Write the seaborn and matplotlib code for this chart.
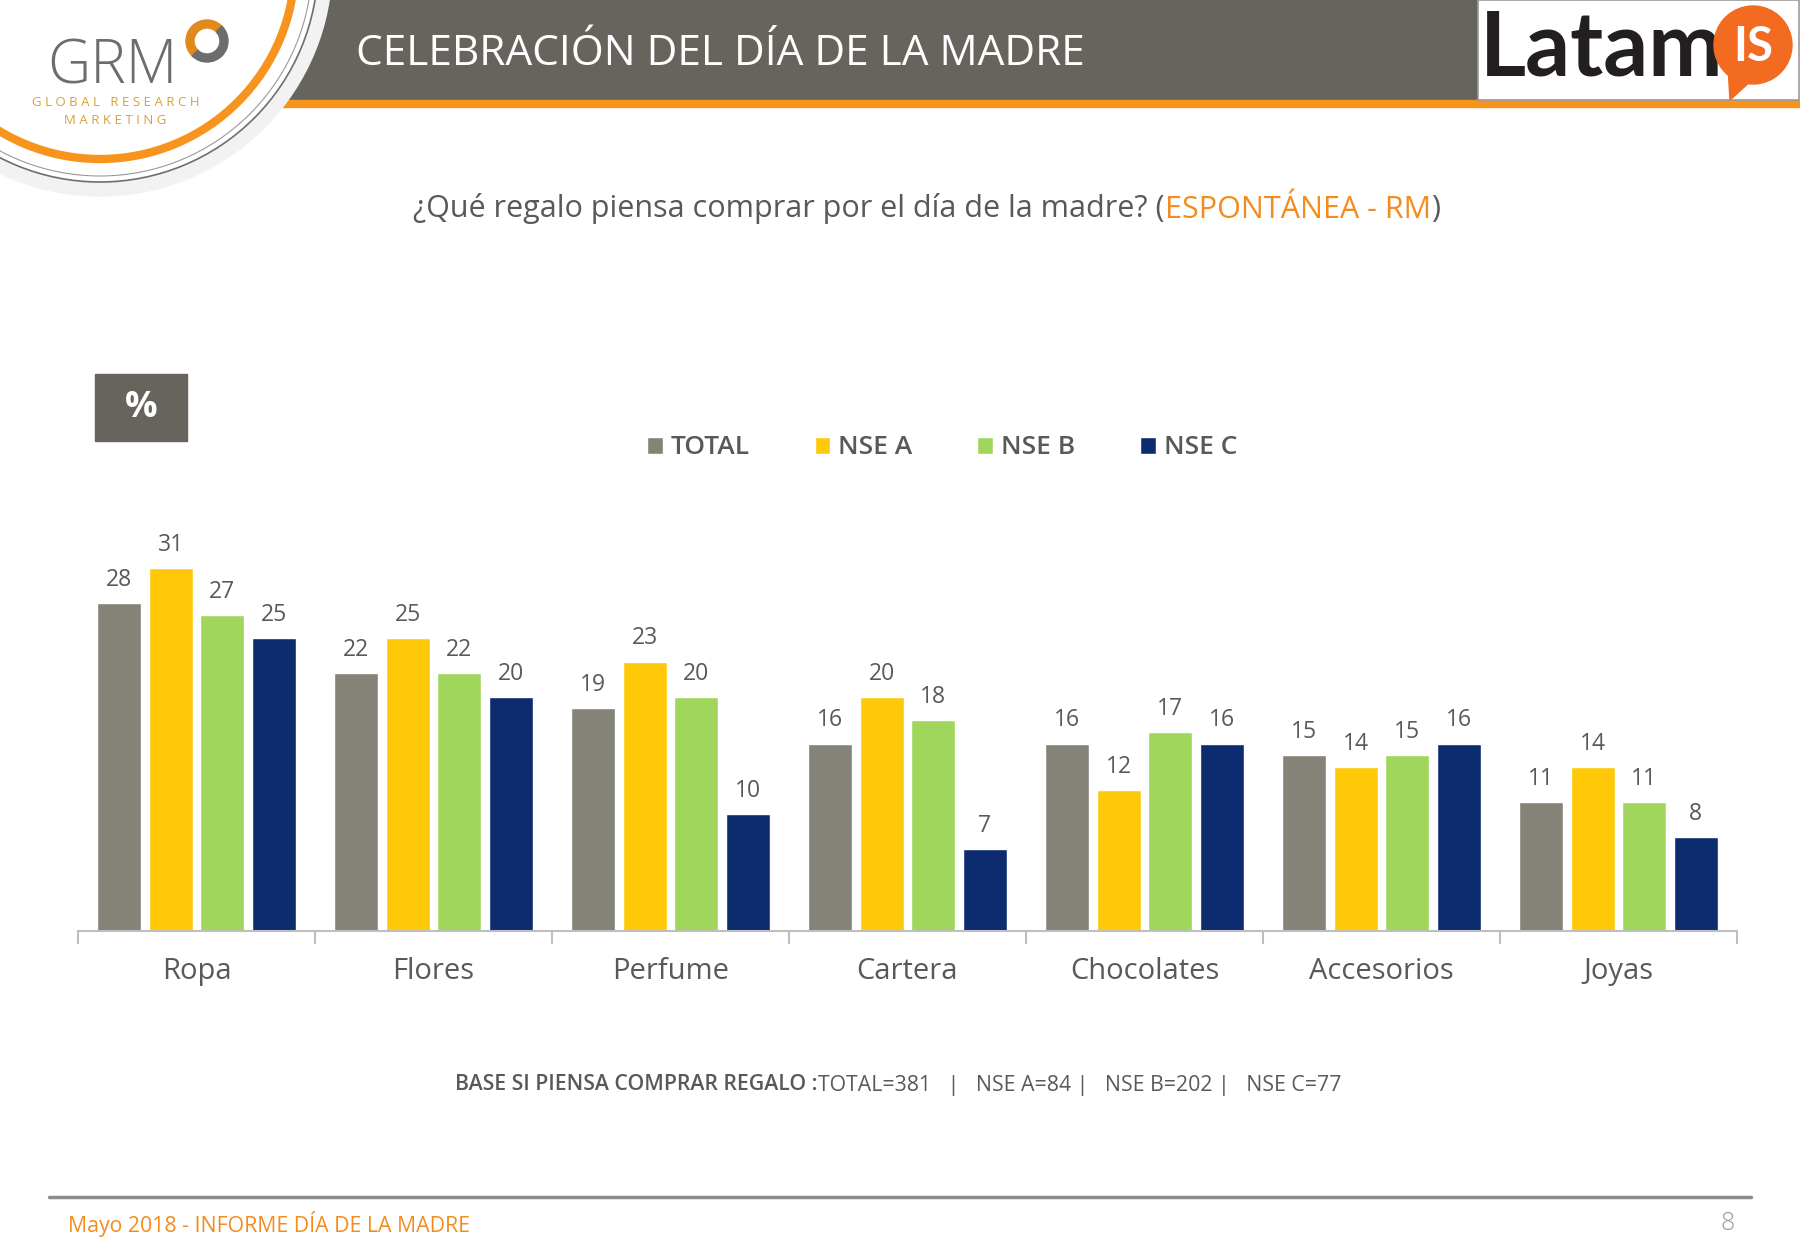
import numpy as np
import pandas as pd
import matplotlib
matplotlib.use("Agg")
import matplotlib.pyplot as plt
from matplotlib.patches import Rectangle, Circle, Wedge, Polygon
import seaborn as sns

# data
categorias = ["Ropa", "Flores", "Perfume", "Cartera", "Chocolates", "Accesorios", "Joyas"]
series = ["TOTAL", "NSE A", "NSE B", "NSE C"]
total = [28, 22, 19, 16, 16, 15, 11]
nse_a = [31, 25, 23, 20, 12, 14, 14]
nse_b = [27, 22, 20, 18, 17, 15, 11]
nse_c = [25, 20, 10, 7, 16, 16, 8]
colores = ["#858378", "#FFC90A", "#A0D65C", "#0C2C6F"]

GRIS_TXT = "#595959"
NARANJA = "#F28C1E"

df = pd.DataFrame({
    "categoria": categorias * 4,
    "serie": np.repeat(series, len(categorias)),
    "valor": total + nse_a + nse_b + nse_c,
})

sns.set_theme(style="white")
plt.rcParams["font.family"] = ["Open Sans", "DejaVu Sans"]

fig = plt.figure(figsize=(18, 12.46), dpi=100)

# background layer in pixel coordinates for the slide decorations
bg = fig.add_axes([0, 0, 1, 1], zorder=0)
bg.set_xlim(0, 1800)
bg.set_ylim(1246, 0)
bg.axis("off")

# header band
bg.add_patch(Rectangle((240, 0), 1240, 100, color="#67645D", zorder=1))
bg.add_patch(Rectangle((240, 100), 1560, 7, color="#F7941D", zorder=1))
bg.add_patch(Rectangle((1478, 0), 321, 100, facecolor="white", edgecolor="#9A9A9A", lw=1.2, zorder=2))
bg.text(356, 54, "CELEBRACIÓN DEL DÍA DE LA MADRE", color="white", fontsize=30.5,
        va="center", ha="left", zorder=3)

# Latamis logo
bg.text(1480, 76, "Latam", color="#231F20", fontsize=64, fontweight="bold",
        family=["Lato", "DejaVu Sans"], va="baseline", ha="left", zorder=3)
bg.add_patch(Polygon([[1728, 66], [1752, 80], [1730, 100]], closed=True, color="#F26B21", zorder=4))
bg.add_patch(Circle((1753, 45), 39, color="#F26B21", zorder=4))
bg.text(1753, 47, "IS", color="white", fontsize=34, fontweight="bold",
        family=["Lato", "DejaVu Sans"], ha="center", va="center", zorder=5)

# GRM logo (circle badge)
bg.add_patch(Circle((100, -36), 232, color="#F2F2F2", zorder=4))
bg.add_patch(Circle((100, -36), 218, facecolor="white", edgecolor="#6E6E6E", lw=1.2, zorder=4))
bg.add_patch(Circle((100, -36), 212, fill=False, edgecolor="#9A9A9A", lw=0.8, zorder=5))
bg.add_patch(Circle((100, -36), 195, fill=False, edgecolor="#F7941D", lw=6, zorder=5))
bg.text(112, 83, "GRM", color="#6D6D6D", fontsize=43, fontweight="light",
        ha="center", va="baseline", zorder=6)
bg.add_patch(Wedge((207, 41), 21, 135, 315, width=8, color="#E08A1E", zorder=6))
bg.add_patch(Wedge((207, 41), 21, 315, 495, width=8, color="#6D6D6D", zorder=6))
bg.text(116, 102, "G L O B A L   R E S E A R C H", color="#D4A23A", fontsize=9.5,
        ha="center", va="center", zorder=6)
bg.text(115, 120, "M A R K E T I N G", color="#D4A23A", fontsize=9.5,
        ha="center", va="center", zorder=6)

# subtitle in two colours
t1 = bg.text(413, 209, "¿Qué regalo piensa comprar por el día de la madre? (", color=GRIS_TXT,
             fontsize=22, ha="left", va="center", zorder=3)
t2 = bg.annotate("ESPONTÁNEA - RM", xy=(1, 0), xycoords=t1, color=NARANJA,
                 fontsize=22, ha="left", va="bottom", zorder=3)
bg.annotate(")", xy=(1, 0), xycoords=t2, color=GRIS_TXT,
            fontsize=22, ha="left", va="bottom", zorder=3)

# % box
bg.add_patch(Rectangle((95, 374), 92, 67, color="#67645D", zorder=2))
bg.text(141, 408, "%", color="white", fontsize=26, fontweight="bold",
        ha="center", va="center", zorder=3)

# base note
b1 = bg.text(455, 1085, "BASE SI PIENSA COMPRAR REGALO :", color=GRIS_TXT, fontsize=15.3,
             fontweight="semibold", ha="left", va="center", zorder=3)
bg.annotate("TOTAL=381   |   NSE A=84 |   NSE B=202 |   NSE C=77", xy=(1, 0), xycoords=b1,
            color=GRIS_TXT, fontsize=15.3, ha="left", va="bottom", zorder=3)

# footer
bg.plot([49, 1751], [1197, 1197], color="#8C8C8C", lw=2.5, zorder=2)
bg.text(68, 1224, "Mayo 2018 - INFORME DÍA DE LA MADRE", color=NARANJA, fontsize=15.3,
        ha="left", va="center", zorder=3)
bg.text(1735, 1224, "8", color="#9A9A9A", fontsize=18, fontweight="light",
        ha="right", va="center", zorder=3)

# main chart
ax = fig.add_axes([78 / 1800, 1 - 931 / 1246, (1737 - 78) / 1800, 410 / 1246], zorder=1)
ax.patch.set_alpha(0)
sns.barplot(data=df, x="categoria", y="valor", hue="serie", palette=colores,
            width=0.87, gap=0.15, saturation=1, ax=ax)

for cont in ax.containers:
    ax.bar_label(cont, fontsize=16.5, color=GRIS_TXT, padding=8)

ax.set_xlim(-0.5, 6.5)
ax.set_ylim(0, 35)
ax.set_xlabel("")
ax.set_ylabel("")
ax.set_yticks([])
for s in ["top", "right", "left"]:
    ax.spines[s].set_visible(False)
ax.spines["bottom"].set_color("#BFBFBF")
ax.spines["bottom"].set_linewidth(1.5)
ax.set_xticks(range(len(categorias)))
ax.set_xticklabels(categorias)
ax.tick_params(axis="x", which="major", length=0, pad=19, labelsize=21, labelcolor=GRIS_TXT)
ax.set_xticks(np.arange(-0.5, len(categorias), 1), minor=True)
ax.tick_params(axis="x", which="minor", bottom=True, length=9, color="#BFBFBF", width=1.5)

handles, labels = ax.get_legend_handles_labels()
ax.get_legend().remove()
fig.legend(handles, labels, loc="center", ncol=4, frameon=False,
           bbox_to_anchor=(942 / 1800, 1 - 448 / 1246),
           handlelength=0.6, handleheight=0.6, handletextpad=0.3, columnspacing=2.45,
           prop={"size": 19, "weight": "semibold"}, labelcolor=GRIS_TXT)

fig.savefig("out.png", dpi=100)
